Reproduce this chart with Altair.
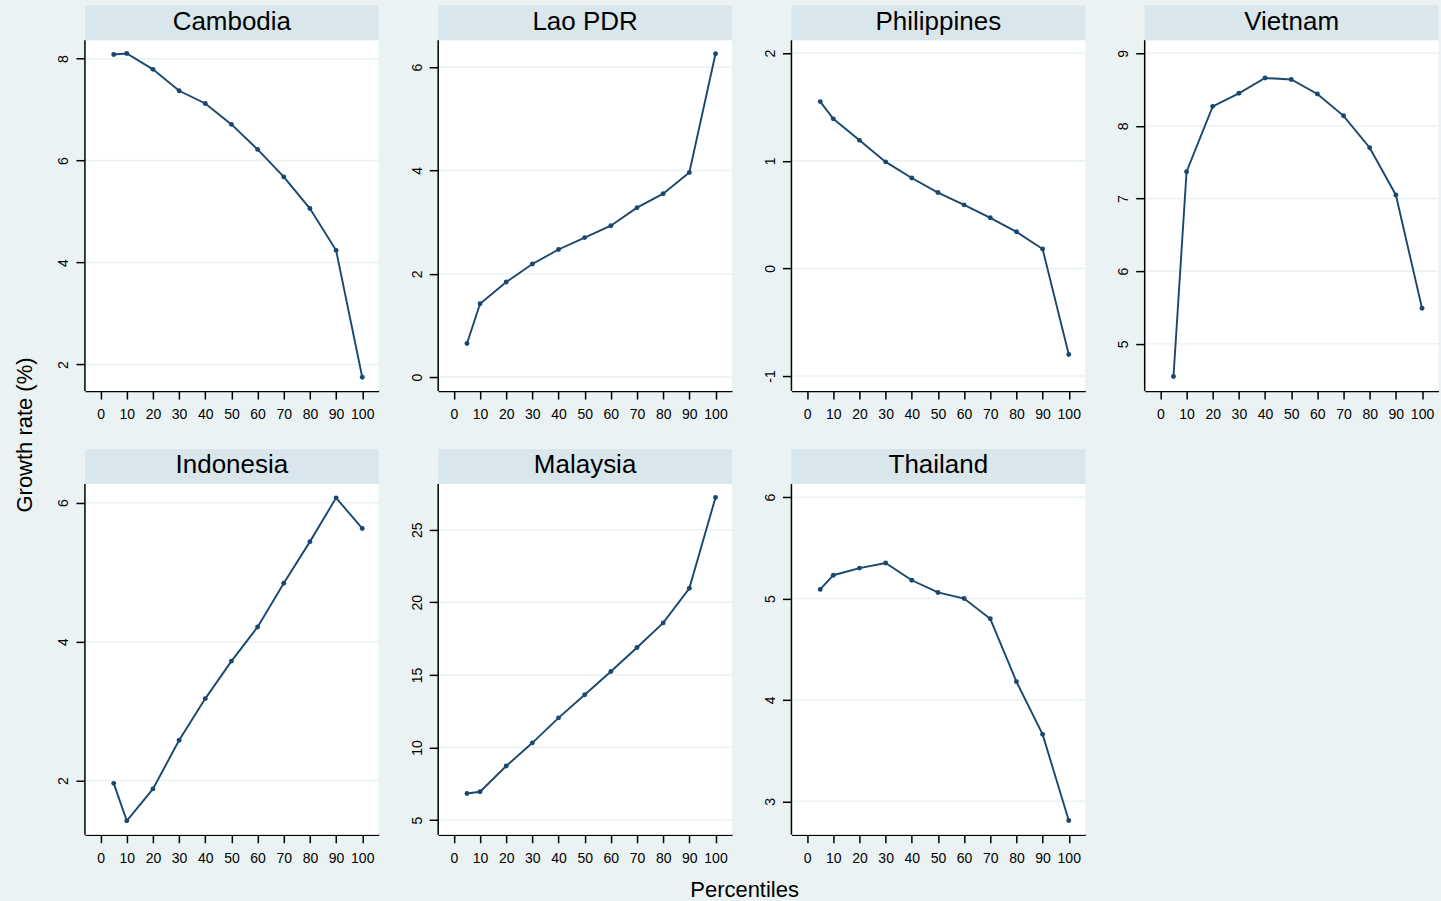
import altair as alt
import pandas as pd

# ---------------- data ----------------
percentiles = [5, 10, 20, 30, 40, 50, 60, 70, 80, 90, 100]

cambodia = [8.08, 8.10, 7.79, 7.37, 7.12, 6.71, 6.22, 5.68, 5.06, 4.24, 1.75]
lao = [0.65, 1.42, 1.84, 2.19, 2.47, 2.70, 2.93, 3.28, 3.55, 3.96, 6.26]
philippines = [1.55, 1.39, 1.19, 0.99, 0.84, 0.705, 0.59, 0.47, 0.34, 0.18, -0.80]
vietnam = [4.55, 7.37, 8.27, 8.45, 8.66, 8.64, 8.44, 8.14, 7.70, 7.05, 5.49]
indonesia = [1.96, 1.42, 1.88, 2.58, 3.18, 3.72, 4.21, 4.84, 5.44, 6.07, 5.63]
malaysia = [6.83, 6.95, 8.72, 10.32, 12.04, 13.63, 15.23, 16.89, 18.58, 20.97, 27.22]
thailand = [5.09, 5.23, 5.30, 5.35, 5.18, 5.06, 5.00, 4.80, 4.18, 3.66, 2.81]

countries = ["Cambodia", "Lao PDR", "Philippines", "Vietnam",
             "Indonesia", "Malaysia", "Thailand"]
series = [cambodia, lao, philippines, vietnam, indonesia, malaysia, thailand]

y_ticks = [[2, 4, 6, 8], [0, 2, 4, 6], [-1, 0, 1, 2], [5, 6, 7, 8, 9],
           [2, 4, 6], [5, 10, 15, 20, 25], [3, 4, 5, 6]]
x_ticks = list(range(0, 101, 10))

# visible plot-region value ranges (scale settings)
y_ranges = [(1.48, 8.36), (-0.27, 6.52), (-1.14, 2.12), (4.35, 9.18),
            (1.22, 6.27), (3.99, 28.15), (2.67, 6.13)]
x_range = (-6.0, 106.3)

# ---------------- style ----------------
FONT = "Liberation Sans"
BG = "#eaf2f3"
STRIP = "#d9e6eb"
NAVY = "#1a476f"
GRID = "#eaf2f3"
W = 294
STRIP_H = 35
PLOT_H = 351
H = STRIP_H + PLOT_H
COL_GAP = 59.5
ROW_GAP = 27

LABEL_EXPR = "datum.value < 0 ? '-' + abs(datum.value) : '' + datum.value"


def panel(name, vals, ticks, yr):
    lo, hi = yr
    top = hi + (hi - lo) * STRIP_H / PLOT_H
    df = pd.DataFrame({"x": percentiles, "y": vals})
    grid_df = pd.DataFrame({"y": ticks})
    one = pd.DataFrame({"name": [name]})

    xs = alt.Scale(domain=list(x_range), nice=False, zero=False)
    ys = alt.Scale(domain=[lo, top], nice=False, zero=False)
    x_axis = alt.Axis(values=x_ticks, grid=False, domain=True, domainColor="black",
                      domainWidth=1.5, tickColor="black", tickWidth=1.5, tickSize=8,
                      labelFont=FONT, labelFontSize=14, labelColor="black",
                      labelPadding=8.5, labelFlush=False, labelOverlap=False,
                      title=None)
    y_axis = alt.Axis(values=ticks, grid=False, domain=False, tickColor="black",
                      tickWidth=1.5, tickSize=9, labelAngle=270, labelAlign="center",
                      labelBaseline="bottom", labelPadding=5, labelFont=FONT,
                      labelFontSize=14, labelColor="black", labelOverlap=False,
                      labelFlush=False, labelExpr=LABEL_EXPR, title=None)
    y_enc = alt.Y("y:Q", scale=ys, axis=y_axis)
    x_enc = alt.X("x:Q", scale=xs, axis=x_axis)

    bg = alt.Chart(one).mark_rect(color="white", strokeWidth=0).encode(
        x=alt.value(0), x2=alt.value(W), y=alt.value(STRIP_H), y2=alt.value(H))
    grid = alt.Chart(grid_df).mark_rule(color=GRID, strokeWidth=1.5).encode(
        x=alt.value(0), x2=alt.value(W), y=y_enc)
    strip = alt.Chart(one).mark_rect(color=STRIP, strokeWidth=0).encode(
        x=alt.value(0), x2=alt.value(W), y=alt.value(0), y2=alt.value(STRIP_H))
    label = alt.Chart(one).mark_text(font=FONT, fontSize=26, color="black",
                                     baseline="middle", align="center").encode(
        x=alt.value(W / 2), y=alt.value(16.5), text="name:N")
    line = alt.Chart(df).mark_line(color=NAVY, strokeWidth=1.9).encode(x=x_enc, y=y_enc)
    pts = alt.Chart(df).mark_circle(color=NAVY, size=24, opacity=1).encode(x=x_enc, y=y_enc)
    yline = alt.Chart(one).mark_rule(color="black", strokeWidth=1.5).encode(
        x=alt.value(0), y=alt.value(STRIP_H), y2=alt.value(H))

    return alt.layer(bg, grid, strip, label, line, pts, yline).properties(width=W, height=H)


panels = [panel(n, s, t, r) for n, s, t, r in zip(countries, series, y_ticks, y_ranges)]

row1 = alt.hconcat(*panels[:4], spacing=COL_GAP, bounds="flush")
row2 = alt.hconcat(*panels[4:], spacing=COL_GAP, bounds="flush")
grid_all = alt.vconcat(row1, row2, spacing=ROW_GAP)

ytitle = alt.Chart(pd.DataFrame({"t": ["Growth rate (%)"]})).mark_text(
    font=FONT, fontSize=22, color="black", angle=270, align="center", baseline="middle"
).encode(x=alt.value(25), y=alt.value(430), text="t:N").properties(width=38, height=830)

chart = alt.hconcat(ytitle, grid_all, spacing=18).properties(
    background=BG,
    padding={"left": 0, "top": 5, "right": 1, "bottom": 0},
    title=alt.TitleParams("Percentiles", orient="bottom", anchor="middle", fontSize=22,
                          font=FONT, fontWeight="normal", color="black", offset=25,
                          dx=25, baseline="middle"),
).configure_view(strokeWidth=0)

chart.save("out.html", embed_options={"renderer": "svg", "actions": False})
